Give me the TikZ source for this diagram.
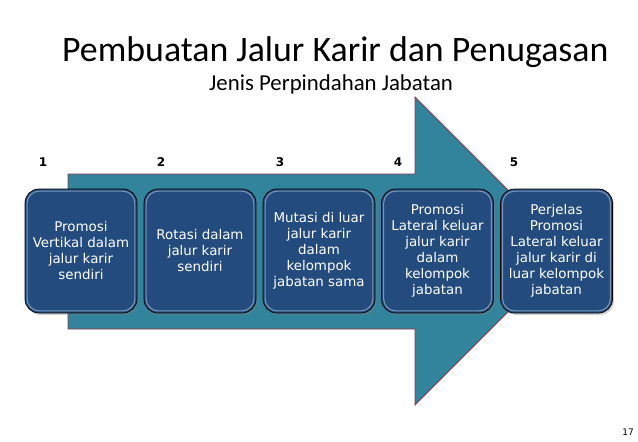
\documentclass[tikz,border=0pt]{standalone}
\usepackage{fontspec}
\setmainfont{DejaVu Sans}
\newfontfamily\calib{Carlito}
\usetikzlibrary{shadows}
\definecolor{teal1}{HTML}{31849B}
\definecolor{arrowedge}{HTML}{8C3A4B}
\definecolor{boxblue}{HTML}{234B7E}
\definecolor{bevel}{HTML}{8FA8C6}
\tikzset{
  stepbox/.style={draw=black, line width=0.7pt, fill=boxblue, rounded corners=14pt,
    minimum width=112pt, minimum height=124pt, inner sep=2pt, align=center,
    text=white, font=\fontsize{13.4}{16}\selectfont,
    drop shadow={shadow xshift=1.5pt, shadow yshift=-2pt, opacity=0.35}},
  bevelline/.style={draw=bevel, line width=1.1pt, rounded corners=12pt, opacity=0.8},
  numlabel/.style={anchor=base, font=\fontsize{12}{14}\bfseries\selectfont},
  bigarrow/.style={fill=teal1, draw=arrowedge, line width=0.8pt, line join=miter}
}
\begin{document}
\begin{tikzpicture}[x=1pt,y=-1pt]
\useasboundingbox (0,0) rectangle (638,442);
% title
\node[anchor=base west, inner sep=0, font=\calib\fontsize{35.8}{40}\selectfont] (title) at (62,61) {Pembuatan Jalur Karir dan Penugasan};
\node[anchor=base west, inner sep=0, font=\calib\fontsize{22.8}{26}\selectfont] (subtitle) at (209,90) {Jenis Perpindahan Jabatan};
% arrow
\draw[bigarrow] (68,174) -- (415,174) -- (415,97) -- (569,251) -- (415,405) -- (415,329) -- (68,329) -- cycle;
% numbers
\node[numlabel] (n1) at (43,166) {1};
\node[numlabel] (n2) at (161,166) {2};
\node[numlabel] (n3) at (280,166) {3};
\node[numlabel] (n4) at (398,166) {4};
\node[numlabel] (n5) at (514,166) {5};
% boxes
\node[stepbox] (b1) at (81,251) {Promosi\\Vertikal dalam\\jalur karir\\sendiri};
\node[stepbox] (b2) at (200,251) {Rotasi dalam\\jalur karir\\sendiri};
\node[stepbox] (b3) at (319,251) {Mutasi di luar\\jalur karir\\dalam\\kelompok\\jabatan sama};
\node[stepbox] (b4) at (437.5,251) {Promosi\\Lateral keluar\\jalur karir\\dalam\\kelompok\\jabatan};
\node[stepbox] (b5) at (556.5,251) {Perjelas\\Promosi\\Lateral keluar\\jalur karir di\\luar kelompok\\jabatan};
\foreach \b in {b1,b2,b3,b4,b5}{
  \draw[bevelline] ([shift={(2.5pt,-2.5pt)}]\b.north west) rectangle ([shift={(-2.5pt,2.5pt)}]\b.south east);
}
% page number
\node[anchor=base, inner sep=0, font=\fontsize{9}{10}\selectfont] (pg) at (628,435) {17};
\end{tikzpicture}
\end{document}
